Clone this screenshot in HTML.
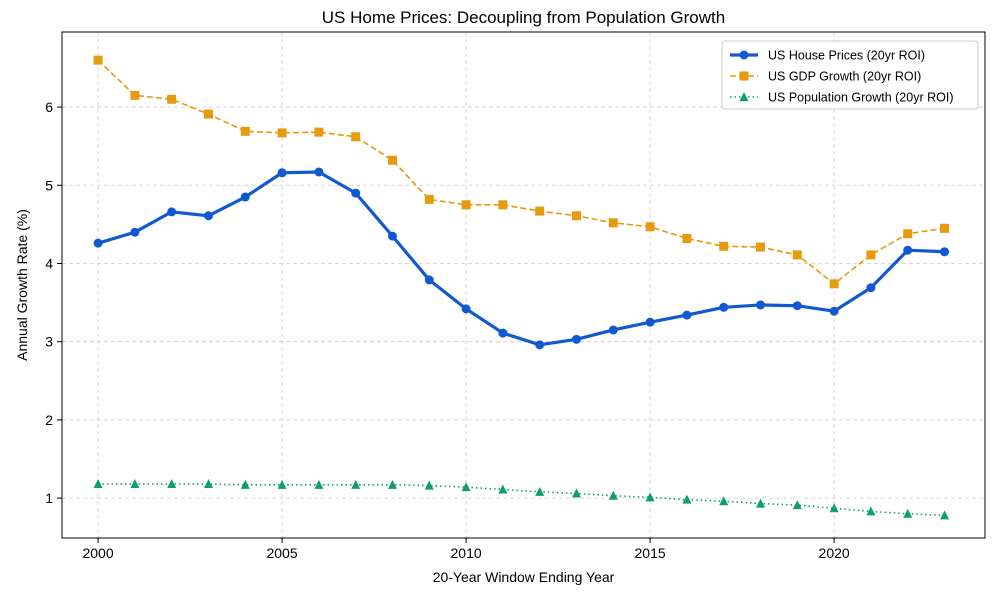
<!DOCTYPE html>
<html><head><meta charset="utf-8"><style>
body{margin:0;background:#fff;font-family:"Liberation Sans",sans-serif}
svg text{font-family:"Liberation Sans",sans-serif;fill:#000}
</style></head><body>
<svg id="chart" width="1000" height="600"></svg>
<script>
const years=[2000,2001,2002,2003,2004,2005,2006,2007,2008,2009,2010,2011,2012,2013,2014,2015,2016,2017,2018,2019,2020,2021,2022,2023];
const house=[4.26,4.40,4.66,4.61,4.85,5.16,5.17,4.90,4.35,3.79,3.42,3.11,2.96,3.03,3.15,3.25,3.34,3.44,3.47,3.46,3.39,3.69,4.17,4.15];
const gdp=[6.60,6.15,6.10,5.91,5.69,5.67,5.68,5.62,5.32,4.82,4.75,4.75,4.67,4.61,4.52,4.47,4.32,4.22,4.21,4.11,3.74,4.11,4.38,4.45];
const pop=[1.18,1.18,1.18,1.18,1.17,1.17,1.17,1.17,1.17,1.16,1.14,1.11,1.08,1.06,1.03,1.01,0.98,0.96,0.93,0.91,0.87,0.83,0.80,0.78];
const xTicks=[2000,2005,2010,2015,2020];
const yTicks=[1,2,3,4,5,6];
const L=62,R=985,T=32,B=538;
const x0=1999.02,x1=2024.1,y0=0.49,y1=6.96;
const X=v=>L+(v-x0)/(x1-x0)*(R-L);
const Y=v=>B-(v-y0)/(y1-y0)*(B-T);
const svg=document.getElementById('chart');
const NS='http://www.w3.org/2000/svg';
function mk(tag,attrs,parent){const e=document.createElementNS(NS,tag);for(const k in attrs)e.setAttribute(k,attrs[k]);(parent||svg).appendChild(e);return e;}
// grid
xTicks.forEach(t=>{const g=mk('line',{x1:X(t),x2:X(t),y1:T,y2:B,stroke:'#ccc','stroke-dasharray':'4,3','stroke-width':0.8});


const tk=mk('line',{x1:X(t),x2:X(t),y1:B,y2:B+5,stroke:'#000'});


const tx=mk('text',{x:X(t),y:B+20,'text-anchor':'middle','font-size':14});tx.textContent=t;

});
yTicks.forEach(t=>{const g=mk('line',{x1:L,x2:R,y1:Y(t),y2:Y(t),stroke:'#ccc','stroke-dasharray':'4,3','stroke-width':0.8});


const tk=mk('line',{x1:L-5,x2:L,y1:Y(t),y2:Y(t),stroke:'#000'});


const tx=mk('text',{x:L-9,y:Y(t)+5,'text-anchor':'end','font-size':14});tx.textContent=t;

});
const frame=mk('rect',{x:L,y:T,width:R-L,height:B-T,fill:'none',stroke:'#000','stroke-width':1});


function series(vals,color,width,dash,marker,name){
 const g=mk('g',{});
 
 
 const p=mk('polyline',{points:vals.map((v,i)=>X(years[i])+','+Y(v)).join(' '),fill:'none',stroke:color,'stroke-width':width,'stroke-dasharray':dash,'stroke-linejoin':'round'},g);
 
 
 vals.forEach((v,i)=>{let m;const cx=X(years[i]),cy=Y(v);
  if(marker==='o')m=mk('circle',{cx:cx,cy:cy,r:4.5,fill:color},g);
  else if(marker==='s')m=mk('rect',{x:cx-4.5,y:cy-4.5,width:9,height:9,fill:color},g);
  else m=mk('polygon',{points:`${cx},${cy-5} ${cx-4.5},${cy+4} ${cx+4.5},${cy+4}`,fill:color},g);
  
  });
}
series(gdp,'#e69a0e',1.6,'6,3','s','gdp-series');
series(pop,'#109e6e',1.6,'1.5,3','^','population-series');
series(house,'#1159d1',3.2,'','o','house-series');
// title & labels
const tt=mk('text',{x:(L+R)/2,y:23,'text-anchor':'middle','font-size':17});tt.textContent='US Home Prices: Decoupling from Population Growth';


const xl=mk('text',{x:(L+R)/2,y:582,'text-anchor':'middle','font-size':14});xl.textContent='20-Year Window Ending Year';


const yl=mk('text',{x:27,y:(T+B)/2,'text-anchor':'middle','font-size':14,transform:`rotate(-90 27 ${(T+B)/2})`});yl.textContent='Annual Growth Rate (%)';


// legend
const lg=mk('g',{});


mk('rect',{x:722,y:41,width:256,height:68,rx:3,fill:'#fff',stroke:'#ccc'},lg);
const items=[['US House Prices (20yr ROI)','#1159d1',3.2,'','o'],['US GDP Growth (20yr ROI)','#e69a0e',1.6,'6,3','s'],['US Population Growth (20yr ROI)','#109e6e',1.6,'1.5,3','^']];
items.forEach((it,i)=>{const y=55+i*21;const e=mk('g',{},lg);
 
 
 mk('line',{x1:730,x2:758,y1:y,y2:y,stroke:it[1],'stroke-width':it[2],'stroke-dasharray':it[3]},e);
 if(it[4]==='o')mk('circle',{cx:744,cy:y,r:4.5,fill:it[1]},e);
 else if(it[4]==='s')mk('rect',{x:739.5,y:y-4.5,width:9,height:9,fill:it[1]},e);
 else mk('polygon',{points:`744,${y-5} 739.5,${y+4} 748.5,${y+4}`,fill:it[1]},e);
 const t=mk('text',{x:768,y:y+4.5,'font-size':12.5},e);t.textContent=it[0];});
</script>
</body></html>
